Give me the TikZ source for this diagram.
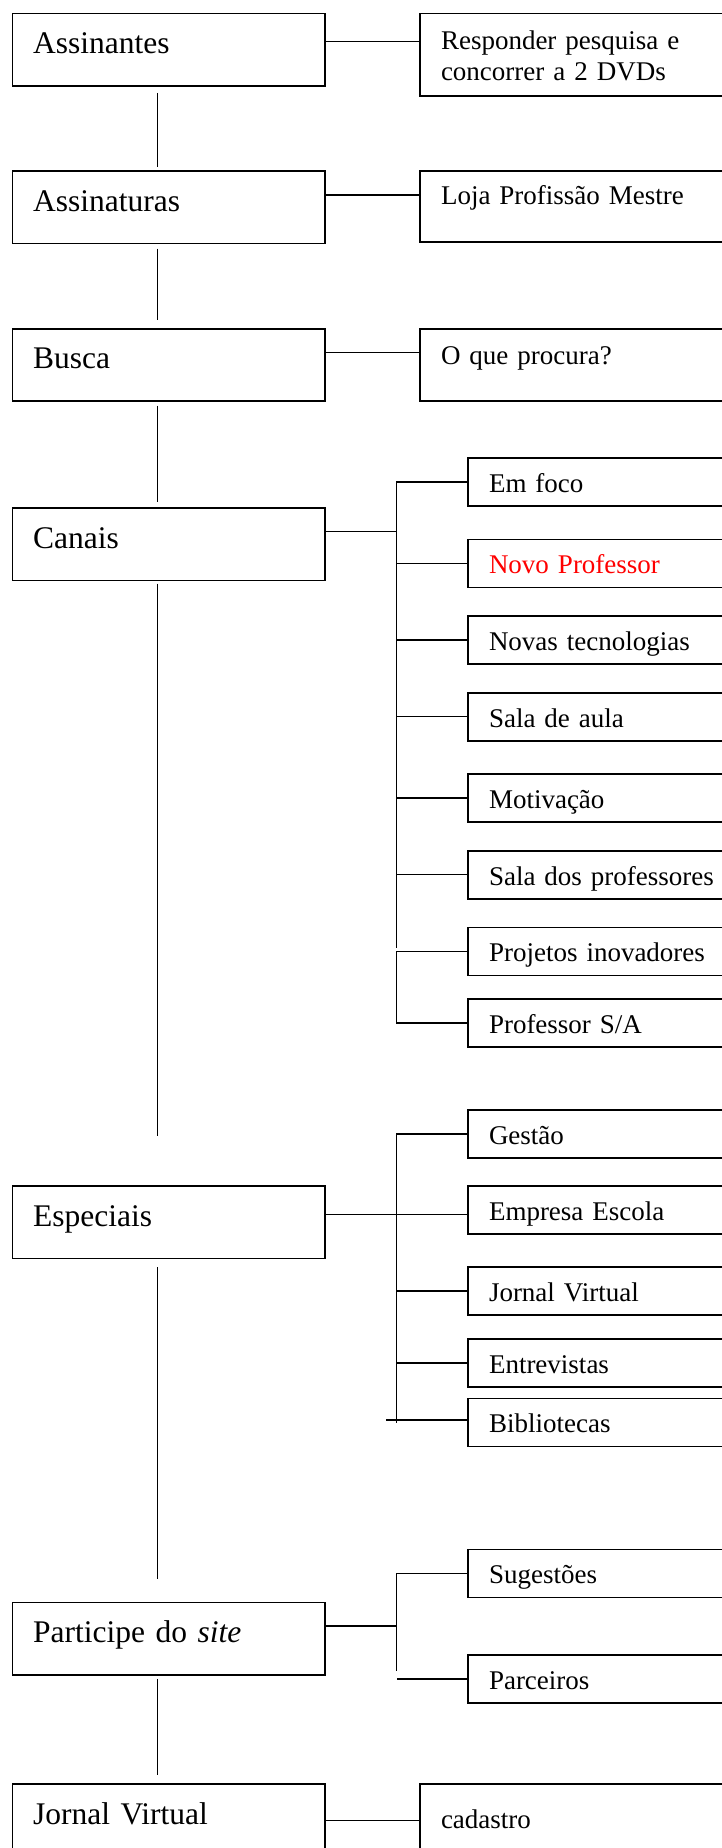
\documentclass[tikz,border=0pt]{standalone}
\usepackage{fontspec}
\setmainfont{Liberation Serif}

\tikzset{
  mainbox/.style={draw, line width=1.6pt, outer sep=0pt, anchor=north west,
    inner xsep=20.7pt, inner ysep=0pt, text width=271.2pt, align=left,
    text height=40pt, text depth=32.5pt, font=\fontsize{31.5}{36}\selectfont},
  rightbox/.style={draw, line width=1.6pt, outer sep=0pt, anchor=north west,
    inner xsep=21pt, inner ysep=0pt, text width=360pt, align=left,
    text height=35pt, text depth=37pt, font=\fontsize{27}{31}\selectfont},
  subbox/.style={rightbox, text width=330pt, text height=34.5pt, text depth=13.5pt},
  conn/.style={line width=1.5pt},
  spine/.style={line width=1pt}
}

\begin{document}
\begin{tikzpicture}[x=1pt,y=-1pt]
\useasboundingbox (0,0) rectangle (722,1848);
\clip (0,0) rectangle (722,1848);

% left column
\node[mainbox] (assinantes)  at (12.4,13.3)   {Assinantes};
\node[mainbox] (assinaturas) at (12.4,171)    {Assinaturas};
\node[mainbox] (busca)       at (12.4,328.7)  {Busca};
\node[mainbox] (canais)      at (12.4,508)    {Canais};
\node[mainbox] (especiais)   at (12.4,1186)   {Especiais};
\node[mainbox] (participe)   at (12.4,1602.3) {Participe do \textit{site}};
\node[mainbox] (jornal)      at (12.4,1784)   {Jornal Virtual};

\foreach \a/\b/\s/\e in {assinantes/assinaturas/7/4, assinaturas/busca/5/8.7,
    busca/canais/4.3/6.3, canais/especiais/3/50.3,
    especiais/participe/8.7/23, participe/jornal/4/8.7}
  \draw[spine] ([xshift=-11.7pt,yshift=-\s pt]\a.south) -- ([xshift=-11.7pt,yshift=\e pt]\b.north);

% single boxes on the right
\node[rightbox, text height=36.4pt, text depth=46pt] (pesquisa) at (420,13.3)
  {\begin{tabular}[t]{@{}l@{}}Responder pesquisa e\\concorrer a 2 DVDs\end{tabular}};
\node[rightbox, text height=33pt, text depth=38pt] (loja) at (420,171) {Loja Profissão Mestre};
\node[rightbox, text height=35.6pt, text depth=36.4pt] (procura) at (420,328.7) {O que procura?};
\node[rightbox, text height=44pt, text depth=28.5pt] (cadastro) at (420,1784) {cadastro};

\draw[conn] ([yshift=7.85pt]assinantes.east) -- ([yshift=12.8pt]pesquisa.west);
\draw[conn] ([yshift=12.25pt]assinaturas.east) -- ([yshift=11.5pt]loja.west);
\draw[conn] ([yshift=12.25pt]busca.east) -- ([yshift=12pt]procura.west);
\draw[conn] (jornal.east) -- (cadastro.west);

% canais
\node[subbox] (emfoco)    at (468,458)   {Em foco};
\node[subbox, text=red] (novoprof) at (468,539.3) {Novo Professor};
\node[subbox] (novastec)  at (468,616)   {Novas tecnologias};
\node[subbox] (salaaula)  at (468,692.7) {Sala de aula};
\node[subbox] (motivacao) at (468,774)   {Motivação};
\node[subbox] (salaprof)  at (468,850.7) {Sala dos professores};
\node[subbox] (projetos)  at (468,927.3) {Projetos inovadores};
\node[subbox] (profsa)    at (468,999)   {Professor S/A};

\coordinate (bus) at (396.5,0);
\coordinate (canaisbusend) at (396.5,947.7);
\draw[conn] (emfoco.west) -- (emfoco.west -| bus) -- (canaisbusend);
\foreach \s in {novoprof,novastec,salaaula,motivacao,salaprof}
  \draw[conn] (\s.west) -- (\s.west -| bus);
\draw[conn] (projetos.west) -- (projetos.west -| bus) -- (profsa.west -| bus) -- (profsa.west);
\draw[conn] ([yshift=12.55pt]canais.east) coordinate (canaisout) -- (canaisout -| bus);

% especiais
\node[subbox] (gestao)      at (468,1110)   {Gestão};
\node[subbox] (empresa)     at (468,1186)   {Empresa Escola};
\node[subbox] (jornalvirt)  at (468,1267)   {Jornal Virtual};
\node[subbox] (entrevistas) at (468,1339)   {Entrevistas};
\node[subbox] (bibliotecas) at (468,1398.3) {Bibliotecas};

\coordinate (especiaisbusend) at (396.5,1422.5);
\coordinate (bibliotecasin) at (386,1420);
\draw[conn] (gestao.west) -- (gestao.west -| bus) -- (especiaisbusend);
\foreach \s in {jornalvirt,entrevistas}
  \draw[conn] (\s.west) -- (\s.west -| bus);
\draw[conn] (bibliotecasin) -- (bibliotecasin -| bibliotecas.west);
\draw[conn] ([yshift=7.55pt]especiais.east) -- ([yshift=-4.7pt]empresa.west);

% participe
\node[subbox] (sugestoes) at (468,1549.3) {Sugestões};
\node[subbox] (parceiros) at (468,1655)   {Parceiros};

\coordinate (participebusend) at (396.5,1670.7);
\draw[conn] (sugestoes.west) -- (sugestoes.west -| bus) -- (participebusend);
\draw[conn] (parceiros.west) -- (parceiros.west -| bus);
\draw[conn] ([yshift=12.55pt]participe.east) coordinate (participeout) -- (participeout -| bus);

\end{tikzpicture}
\end{document}
